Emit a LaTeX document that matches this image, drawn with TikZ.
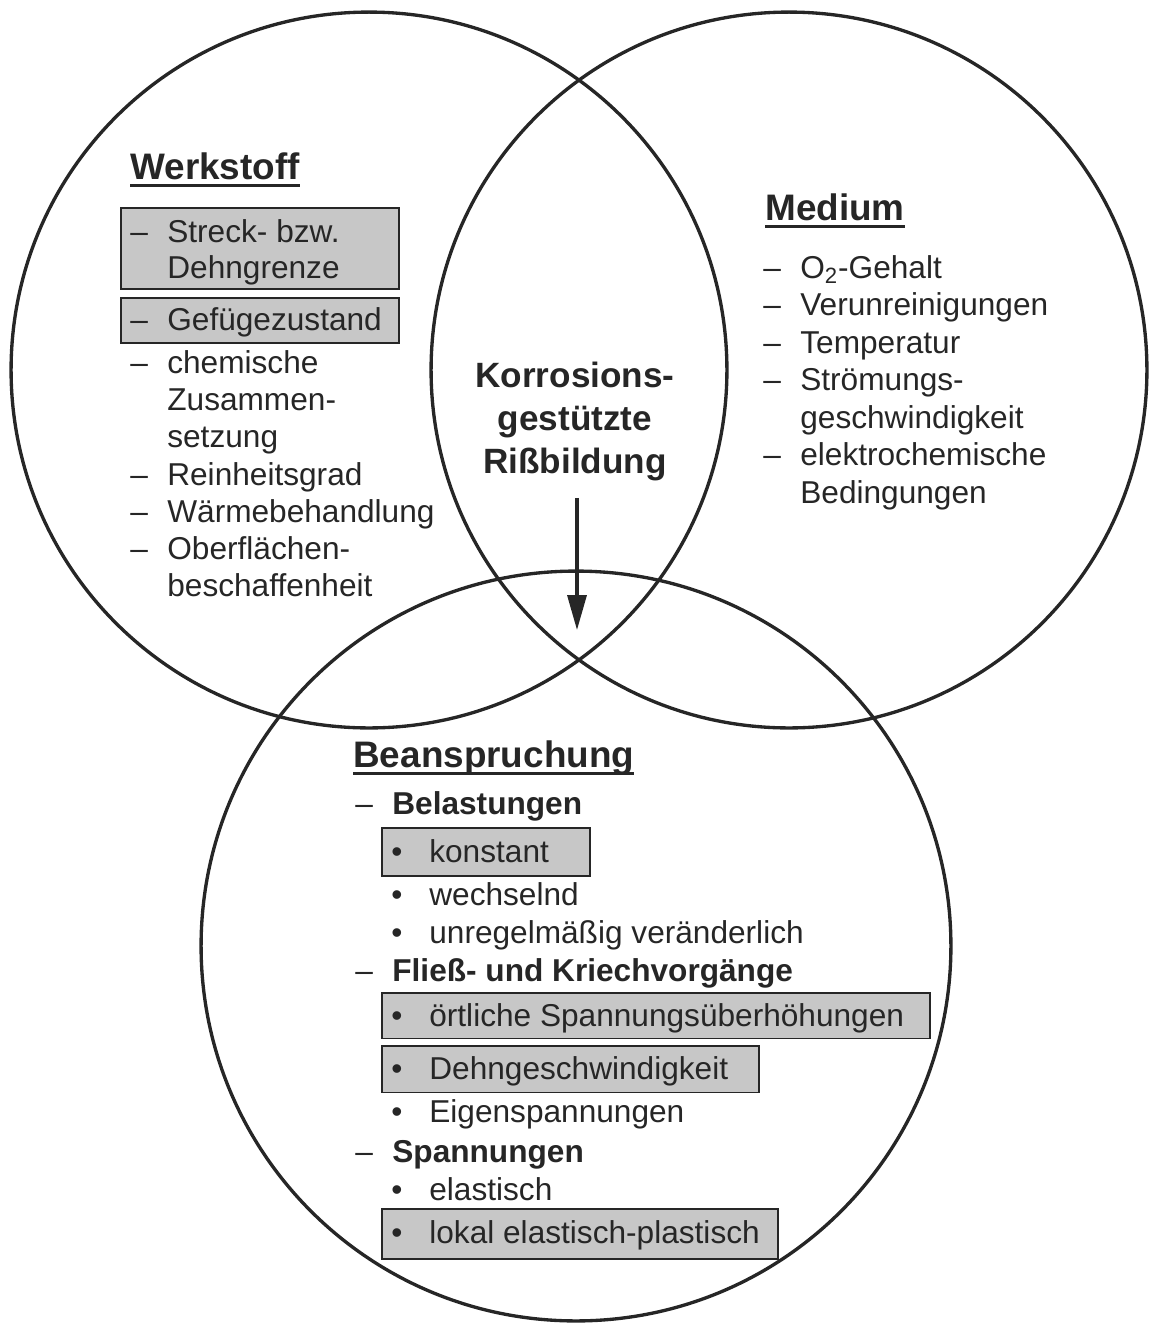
\documentclass[tikz,border=0pt]{standalone}
\usepackage{fontspec}
\setmainfont{Liberation Sans}
\usetikzlibrary{arrows.meta}

\newcommand\strich{\makebox[0.74cm][l]{–}}
\newcommand\punkt{\makebox[0.76cm][l]{•}}
\newcommand\unterstrich[1]{\setbox0\hbox{#1}\rlap{\rule[-4.3pt]{\wd0}{1.5pt}}\box0}

\tikzset{
    kreis/.style={
        circle,
        draw=black!85, % dunkle Linie
        line width=1.9pt,
        inner sep=0
    },
    kasten/.style={
        rectangle,
        draw=black!85,
        fill=black!22, % grauer Raster
        line width=1pt,
        inner sep=0,
        anchor=north west
    },
    eintrag/.style={
        anchor=base west,
        inner sep=0,
        text=black!85,
        font=\fontsize{18}{21.3}\selectfont
    },
    fett/.style={
        eintrag,
        font=\fontsize{18}{21.3}\selectfont\bfseries
    },
    titel/.style={
        eintrag,
        font=\fontsize{21}{25}\selectfont\bfseries
    }
}

\begin{document}
\begin{tikzpicture}[x=0.02cm, y=-0.02cm]
            \useasboundingbox (0,0) rectangle (1150,1323);
            % drei Kreise
            \node[kreis, minimum size=14.32cm] (werkstoff) at (369,370) {};
            \node[kreis, minimum size=14.32cm] (medium) at (789,370) {};
            \node[kreis, minimum size=15cm] (beanspruchung) at (576,946) {};

            % graue Kaesten
            \node[kasten, minimum width=5.56cm, minimum height=1.62cm] (k1) at (120,207) {};
            \node[kasten, minimum width=5.56cm, minimum height=0.9cm] (k2) at (120,297) {};
            \node[kasten, minimum width=4.16cm, minimum height=0.96cm] (k3) at (381,827) {};
            \node[kasten, minimum width=10.96cm, minimum height=0.91cm] (k4) at (381,992) {};
            \node[kasten, minimum width=7.54cm, minimum height=0.93cm] (k5) at (381,1045) {};
            \node[kasten, minimum width=7.92cm, minimum height=1cm] (k6) at (381,1208) {};

            % Werkstoff
            \node[titel] (t1) at (130,179) {\unterstrich{Werkstoff}};
            \node[eintrag] (w1) at (130,242) {\strich Streck- bzw.};
            \node[eintrag] (w2) at (167,278) {Dehngrenze};
            \node[eintrag] (w3) at (130,330) {\strich Gefügezustand};
            \node[eintrag] (w4) at (130,373) {\strich chemische};
            \node[eintrag] (w5) at (167,410) {Zusammen-};
            \node[eintrag] (w6) at (167,447) {setzung};
            \node[eintrag] (w7) at (130,485) {\strich Reinheitsgrad};
            \node[eintrag] (w8) at (130,522) {\strich Wärmebehandlung};
            \node[eintrag] (w9) at (130,559) {\strich Oberflächen-};
            \node[eintrag] (w10) at (167,596) {beschaffenheit};

            % Medium
            \node[titel] (t2) at (765,220) {\unterstrich{Medium}};
            \node[eintrag] (m1) at (763,278) {\strich O\textsubscript{2}-Gehalt};
            \node[eintrag] (m2) at (763,315) {\strich Verunreinigungen};
            \node[eintrag] (m3) at (763,353) {\strich Temperatur};
            \node[eintrag] (m4) at (763,390) {\strich Strömungs-};
            \node[eintrag] (m5) at (800,428) {geschwindigkeit};
            \node[eintrag] (m6) at (763,465) {\strich elektrochemische};
            \node[eintrag] (m7) at (800,503) {Bedingungen};

            % Schnittmenge
            \node[align=center, anchor=base, inner sep=0, text=black!85,
                  font=\fontsize{20}{24.2}\selectfont\bfseries] (riss) at (575,473)
                  {Korrosions-\\gestützte\\Rißbildung};
            \coordinate (spitze) at (577,630);
            \draw[-{Triangle[length=19.8pt, width=10.8pt]}, line width=1.8pt, draw=black!85,
                  shorten <=0.34cm] (riss.south -| spitze) -- (spitze);

            % Beanspruchung
            \node[titel] (t3) at (353,767) {\unterstrich{Beanspruchung}};
            \node[eintrag] (b1) at (355,814) {\strich\textbf{Belastungen}};
            \node[eintrag] (b2) at (391,862) {\punkt konstant};
            \node[eintrag] (b3) at (391,905) {\punkt wechselnd};
            \node[eintrag] (b4) at (391,943) {\punkt unregelmäßig veränderlich};
            \node[eintrag] (b5) at (355,981) {\strich\textbf{Fließ- und Kriechvorgänge}};
            \node[eintrag] (b6) at (391,1026) {\punkt örtliche Spannungsüberhöhungen};
            \node[eintrag] (b7) at (391,1079) {\punkt Dehngeschwindigkeit};
            \node[eintrag] (b8) at (391,1122) {\punkt Eigenspannungen};
            \node[eintrag] (b9) at (355,1162) {\strich\textbf{Spannungen}};
            \node[eintrag] (b10) at (391,1200) {\punkt elastisch};
            \node[eintrag] (b11) at (391,1243) {\punkt lokal elastisch-plastisch};
\end{tikzpicture}
\end{document}
